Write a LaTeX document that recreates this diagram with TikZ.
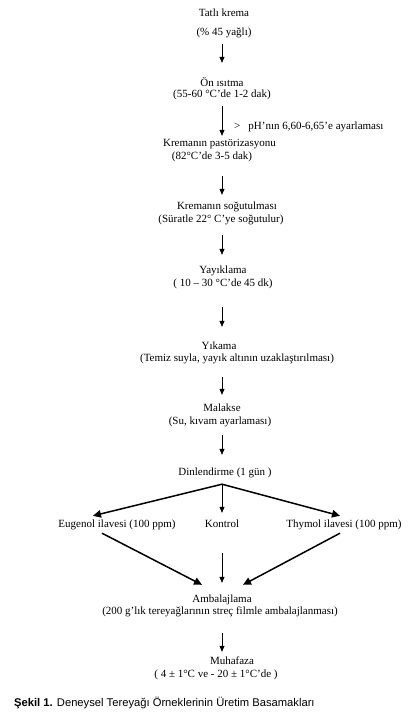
\documentclass[tikz,border=0pt]{standalone}
\usepackage{fontspec}
\setmainfont{Liberation Serif}
\newfontfamily\capfont{Liberation Sans}
\usetikzlibrary{arrows.meta}
\begin{document}
\begin{tikzpicture}[x=1pt, y=-1pt,
  txt/.style={inner sep=0pt, anchor=base, text height=8pt, text depth=2.5pt, font=\fontsize{11}{13}\selectfont},
  flow/.style={-{Triangle[length=6pt,width=5pt]}, line width=0.8pt},
  branch/.style={-{Triangle[length=8pt,width=7.5pt]}, line width=1.5pt}]
\useasboundingbox (0,0) rectangle (411,716);
\coordinate (col) at (222,0);
\node[txt] (krema) at (224,16) {Tatlı krema};
\node[txt] (yagli) at (224,35) {(\% 45 yağlı)};
\node[txt] (onis) at (222,86) {Ön ısıtma};
\node[txt] (onisd) at (222,97) {(55-60 °C’de 1-2 dak)};
\node[txt, anchor=base west] (ph) at (234,129) {>\hspace{8pt}pH’nın 6,60-6,65’e ayarlaması};
\node[txt] (past) at (219.5,146) {Kremanın pastörizasyonu};
\node[txt] (pastd) at (212,159) {(82°C’de 3-5 dak)};
\node[txt] (sogut) at (227,209) {Kremanın soğutulması};
\node[txt] (sogutd) at (221,222) {(Süratle 22° C’ye soğutulur)};
\node[txt] (yayik) at (223,273) {Yayıklama};
\node[txt] (yayikd) at (223,286) {( 10 – 30 °C’de 45 dk)};
\node[txt] (yika) at (219,349) {Yıkama};
\node[txt] (yikad) at (237,361) {(Temiz suyla, yayık altının uzaklaştırılması)};
\node[txt] (malak) at (222,411) {Malakse};
\node[txt] (malakd) at (220,424) {(Su, kıvam ayarlaması)};
\node[txt] (dinl) at (225,475) {Dinlendirme (1 gün )};
\node[txt] (eug) at (117,527) {Eugenol ilavesi (100 ppm)};
\node[txt] (kont) at (222,527) {Kontrol};
\node[txt] (thy) at (344,527) {Thymol ilavesi (100 ppm)};
\node[txt] (amb) at (222,602) {Ambalajlama};
\node[txt] (ambd) at (220,614) {(200 g’lık tereyağlarının streç filmle ambalajlanması)};
\node[txt] (muh) at (232,664) {Muhafaza};
\node[txt] (muhd) at (216,677) {( 4 ± 1°C ve - 20 ± 1°C’de )};
\node[inner sep=0pt, anchor=base west, font=\capfont\fontsize{11.2}{13}\selectfont] (cap) at (14,706) {\textbf{Şekil 1.} Deneysel Tereyağı Örneklerinin Üretim Basamakları};
\path[flow, shorten <=6.5pt, shorten >=15pt] (yagli.south -| col) edge (onis.north -| col);
\path[flow, shorten <=6.5pt, shorten >=2pt] (onisd.south -| col) edge (past.north -| col);
\path[flow, shorten <=14.5pt, shorten >=6pt] (pastd.south -| col) edge (sogut.north -| col);
\path[flow, shorten <=10.5pt, shorten >=10pt] (sogutd.south -| col) edge (yayik.north -| col);
\path[flow, shorten <=18.5pt, shorten >=14pt] (yayikd.south -| col) edge (yika.north -| col);
\path[flow, shorten <=13.5pt, shorten >=8pt] (yikad.south -| col) edge (malak.north -| col);
\path[flow, shorten <=8.5pt, shorten >=12pt] (malakd.south -| col) edge (dinl.north -| col);
\path[branch] ([yshift=-6.5pt]dinl.south -| col) edge ([xshift=-24pt,yshift=3pt]eug.north);
\path[flow] ([yshift=-6.5pt]dinl.south -| col) edge ([yshift=6pt]kont.north);
\path[branch] ([yshift=-6.5pt]dinl.south -| col) edge ([xshift=-4pt,yshift=3pt]thy.north);
\path[branch] ([xshift=-15pt,yshift=-3.5pt]eug.south) edge ([xshift=-20pt,yshift=9pt]amb.north);
\path[flow] ([yshift=-23.5pt]kont.south) edge ([yshift=11pt]amb.north);
\path[branch] ([xshift=-4pt,yshift=-3.5pt]thy.south) edge ([xshift=21pt,yshift=9pt]amb.north);
\path[flow, shorten <=16.5pt, shorten >=4pt] (ambd.south -| col) edge (muh.north -| col);
\end{tikzpicture}
\end{document}
